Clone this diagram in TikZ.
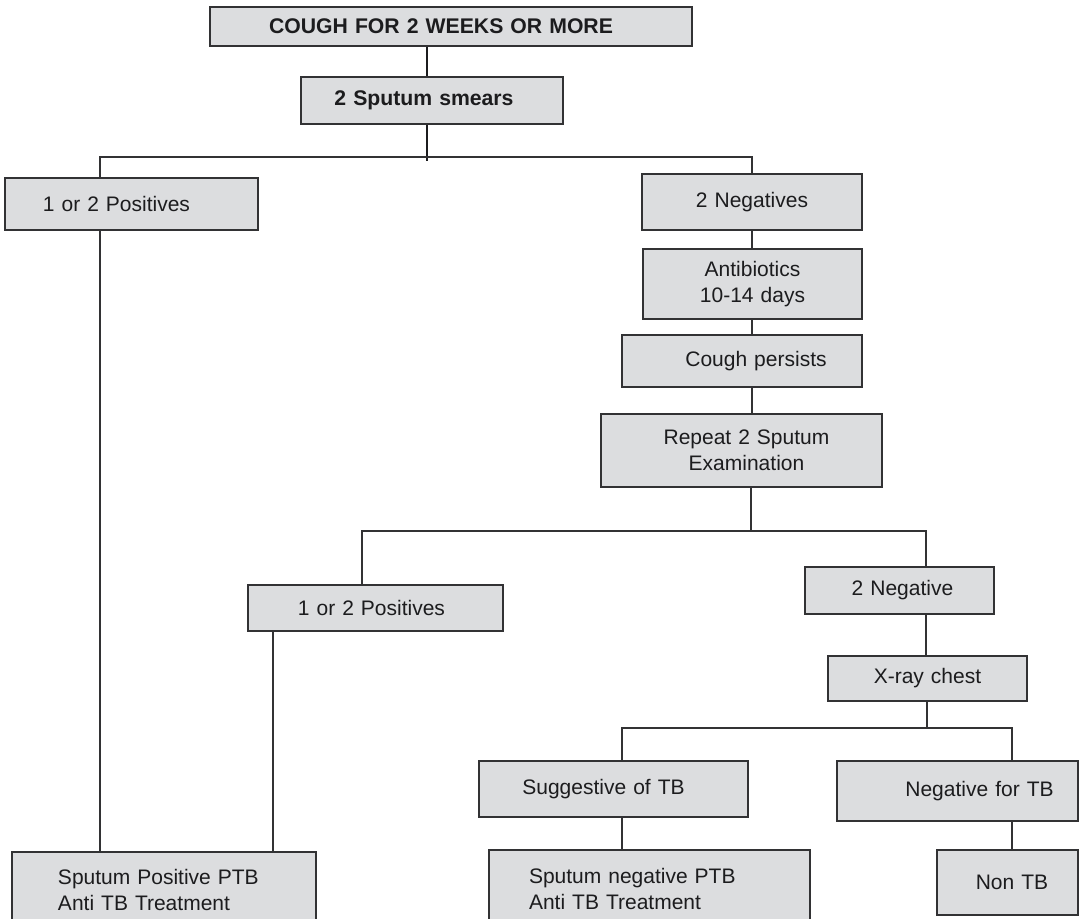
\documentclass[tikz,border=0pt]{standalone}
\usepackage{fontspec}
\setmainfont{Liberation Sans}
\definecolor{boxfill}{RGB}{220,221,223}
\definecolor{edge}{RGB}{50,50,52}
\definecolor{ink}{RGB}{28,28,30}
\begin{document}
\begin{tikzpicture}[x=1pt,y=-1pt,
  flowbox/.style={draw=edge, fill=boxfill, line width=1.3pt, inner xsep=0pt, inner ysep=0pt,
    text=ink, font=\fontsize{21}{26}\selectfont, align=center},
  headbox/.style={flowbox, font=\fontsize{21.2}{26}\selectfont\bfseries},
  leftbox/.style={flowbox, align=left},
  link/.style={draw=edge, line width=1.3pt, line join=miter},
  trunk/.style={draw=ink, line width=2.4pt}]
\useasboundingbox (0,0) rectangle (1080,919);

% --- boxes ---
\node[headbox, text width=482pt, minimum height=39pt] (cough) at (451,26.5) {\hspace*{-20pt}COUGH FOR 2 WEEKS OR MORE};
\node[headbox, text width=262pt, minimum height=47pt] (smears) at (432,100.5) {\hspace*{-16pt}2 Sputum smears};

\node[flowbox, text width=253pt, minimum height=52pt] (pos1) at (131.5,204) {\hspace*{-30pt}1 or 2 Positives};
\node[flowbox, text width=220pt, minimum height=56pt] (neg) at (752,202) {2 Negatives};
\node[flowbox, text width=219pt, minimum height=70pt] (anti) at (752.5,284) {Antibiotics\\10-14 days};
\node[flowbox, text width=240pt, minimum height=52pt] (persist) at (742,361) {\hspace*{28pt}Cough persists};
\node[flowbox, text width=281pt, minimum height=73pt] (repeat) at (741.5,450.5) {\hspace*{10pt}Repeat 2 Sputum\\\hspace*{10pt}Examination};

\node[flowbox, text width=255pt, minimum height=46pt] (pos2) at (375.5,608) {\hspace*{-8pt}1 or 2 Positives};
\node[flowbox, text width=189pt, minimum height=47pt] (neg2) at (899.5,590.5) {\hspace*{6pt}2 Negative};
\node[flowbox, text width=199pt, minimum height=45pt] (xray) at (927.5,678.5) {X-ray chest};

\node[flowbox, text width=269pt, minimum height=56pt] (sugg) at (613.5,789) {\hspace*{-20pt}Suggestive of TB};
\node[flowbox, text width=241pt, minimum height=60pt] (negtb) at (957.5,791) {\hspace*{44pt}Negative for TB};

\node[leftbox, text width=304pt, minimum height=76pt] (sppos) at (164,890) {\hspace*{46pt}Sputum Positive PTB\\\hspace*{46pt}Anti TB Treatment};
\node[leftbox, text width=321pt, minimum height=78pt] (spneg) at (649.5,889) {\hspace*{40pt}Sputum negative PTB\\\hspace*{40pt}Anti TB Treatment};
\node[flowbox, text width=141pt, minimum height=65pt] (nontb) at (1007.5,882.5) {\hspace*{9pt}Non TB};

% --- junction points ---
\coordinate (top) at (427,157);
\coordinate (stub) at (427,161);
\coordinate (b1) at (100,157);
\coordinate (b2) at (752,157);
\coordinate (cm) at (751,531);
\coordinate (c1) at (362,531);
\coordinate (c2) at (926,531);
\coordinate (colA) at (273,631);
\coordinate (e0) at (927,728);
\coordinate (e1) at (622,728);
\coordinate (e2) at (1012,728);

% --- connectors ---
\draw[trunk] (cough.south -| top) -- (smears.north -| top);
\draw[trunk] (smears.south -| top) -- (stub);
\draw[link] (pos1.north -| b1) -- (b1) -- (b2) -- (neg.north -| b2);
\draw[link] (pos1.south -| b1) -- (sppos.north -| b1);
\draw[link] (neg.south) -- (neg.south |- anti.north);
\draw[link] (anti.south -| neg.south) -- (persist.north -| neg.south);
\draw[link] (persist.south -| neg.south) -- (repeat.north -| neg.south);
\draw[link] (repeat.south -| cm) -- (cm);
\draw[link] (pos2.north -| c1) -- (c1) -- (c2) -- (neg2.north -| c2);
\draw[link] (pos2.south -| colA) -- (sppos.north -| colA);
\draw[link] (neg2.south -| c2) -- (xray.north -| c2);
\draw[link] (xray.south -| e0) -- (e0);
\draw[link] (sugg.north -| e1) -- (e1) -- (e2) -- (negtb.north -| e2);
\draw[link] (sugg.south -| e1) -- (spneg.north -| e1);
\draw[link] (negtb.south -| e2) -- (nontb.north -| e2);
\end{tikzpicture}
\end{document}
